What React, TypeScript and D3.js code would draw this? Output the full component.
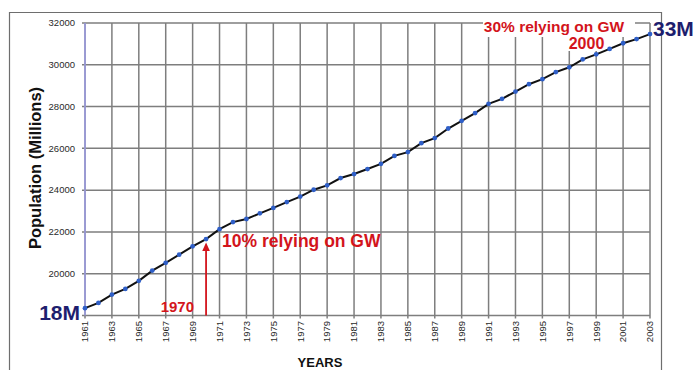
import React from "react";
import * as d3 from "d3";

const years = [1961,1962,1963,1964,1965,1966,1967,1968,1969,1970,1971,1972,1973,1974,1975,1976,1977,1978,1979,1980,1981,1982,1983,1984,1985,1986,1987,1988,1989,1990,1991,1992,1993,1994,1995,1996,1997,1998,1999,2000,2001,2002,2003];
const population = [18350,18600,19000,19270,19660,20150,20520,20910,21310,21660,22130,22470,22620,22890,23150,23430,23690,24020,24230,24580,24770,25010,25260,25640,25820,26250,26490,26950,27320,27690,28130,28370,28720,29070,29310,29650,29880,30260,30500,30760,31030,31230,31470];
const yTicks = [18000,20000,22000,24000,26000,28000,30000,32000];
const yTickLabels = ["","20000","22000","24000","26000","28000","30000","32000"];
const xTickYears = [1961,1963,1965,1967,1969,1971,1973,1975,1977,1979,1981,1983,1985,1987,1989,1991,1993,1995,1997,1999,2001,2003];
const startLabel = "18M";
const endLabel = "33M";
const markYear1 = 1970;
const markYear2 = 2000;

export default function App() {
  const W = 698, H = 370;
  const x = d3.scaleLinear().domain([1961, 2003]).range([85, 650]);
  const y = d3.scaleLinear().domain([18000, 32000]).range([315.5, 23]);
  const data = years.map((yr, i) => ({ yr, v: population[i] }));
  const line = d3.line<any>().x(d => x(d.yr)).y(d => y(d.v));
  const grid = "#7e7e7e";
  const red = "#d3141c";
  const navy = "#1e1e6e";
  const tickFont = "'Liberation Sans', Arial, sans-serif";
  const boldFont = "'Liberation Sans', Arial, sans-serif";
  const x1970 = x(markYear1);
  return (
    <svg width={W} height={H} style={{ position: "absolute", left: 0, top: 0, background: "#fff" }}>
      <rect x={0} y={0} width={W} height={H} fill="#fff" />
      {/* outer frame */}
      <path d={`M9.5,${H} V12.5 H661.5 V${H}`} fill="none" stroke="#6e6e6e" strokeWidth={1.2} />
      {/* horizontal grid */}
      {yTicks.map(t => (
        <line key={"h" + t} x1={82} x2={650} y1={y(t)} y2={y(t)} stroke={grid} strokeWidth={1.5} />
      ))}
      {/* vertical grid */}
      {xTickYears.map(t => (
        <line key={"v" + t} x1={x(t)} x2={x(t)} y1={y(32000)} y2={y(18000) + 3} stroke={grid} strokeWidth={1.5} />
      ))}
      {/* left axis */}
      <line x1={x(1961)} x2={x(1961)} y1={y(32000)} y2={y(18000)} stroke="#9a9ae0" strokeWidth={1.6} />
      {/* white boxes behind top annotations */}
      <rect x={483} y={13} width={152} height={24} fill="#fff" />
      <rect x={564} y={36} width={46} height={15} fill="#fff" />
      {/* y tick labels */}
      {yTicks.map((t, i) => (
        <text key={"yl" + t} x={75} y={y(t)} dy="0.35em" textAnchor="end" fontFamily={tickFont} fontSize={9.5} fill="#2a2a2a">
          {yTickLabels[i]}
        </text>
      ))}
      {/* x tick labels */}
      {xTickYears.map(t => (
        <text key={"xl" + t} transform={`translate(${x(t)},321) rotate(-90)`} dy="0.35em" textAnchor="end" fontFamily={tickFont} fontSize={9.5} fill="#2a2a2a">
          {t}
        </text>
      ))}
      {/* axis titles */}
      <text transform="translate(41,168) rotate(-90)" textAnchor="middle" fontFamily={boldFont} fontWeight="bold" fontSize={16.5} fill="#111">
        Population (Millions)
      </text>
      <text x={320} y={366.5} textAnchor="middle" fontFamily={boldFont} fontWeight="bold" fontSize={13} fill="#111">
        YEARS
      </text>
      {/* arrow */}
      <line x1={x1970} x2={x1970} y1={y(18000)} y2={250} stroke={red} strokeWidth={1.8} />
      <path d={`M${x1970},242.5 L${x1970 - 3.8},251 L${x1970 + 3.8},251 Z`} fill={red} />
      {/* data line */}
      <path d={line(data) || ""} fill="none" stroke="#111" strokeWidth={2} />
      {data.map(d => (
        <circle key={"p" + d.yr} cx={x(d.yr)} cy={y(d.v)} r={2.4} fill="#2f5fc8" />
      ))}
      {/* annotations */}
      <text x={194} y={311.5} textAnchor="end" fontFamily={boldFont} fontWeight="bold" fontSize={15} fill={red}>
        {markYear1}
      </text>
      <text x={222} y={247} fontFamily={boldFont} fontWeight="bold" fontSize={17.5} fill={red}>
        10% relying on GW
      </text>
      <text x={554} y={31.5} textAnchor="middle" fontFamily={boldFont} fontWeight="bold" fontSize={15.5} fill={red}>
        30% relying on GW
      </text>
      <text x={586.5} y={48.5} textAnchor="middle" fontFamily={boldFont} fontWeight="bold" fontSize={16} fill={red}>
        {markYear2}
      </text>
      <text x={80} y={320} textAnchor="end" fontFamily={boldFont} fontWeight="bold" fontSize={21} fill={navy}>
        {startLabel}
      </text>
      <text x={653} y={36} fontFamily={boldFont} fontWeight="bold" fontSize={21} fill={navy}>
        {endLabel}
      </text>
    </svg>
  );
}
